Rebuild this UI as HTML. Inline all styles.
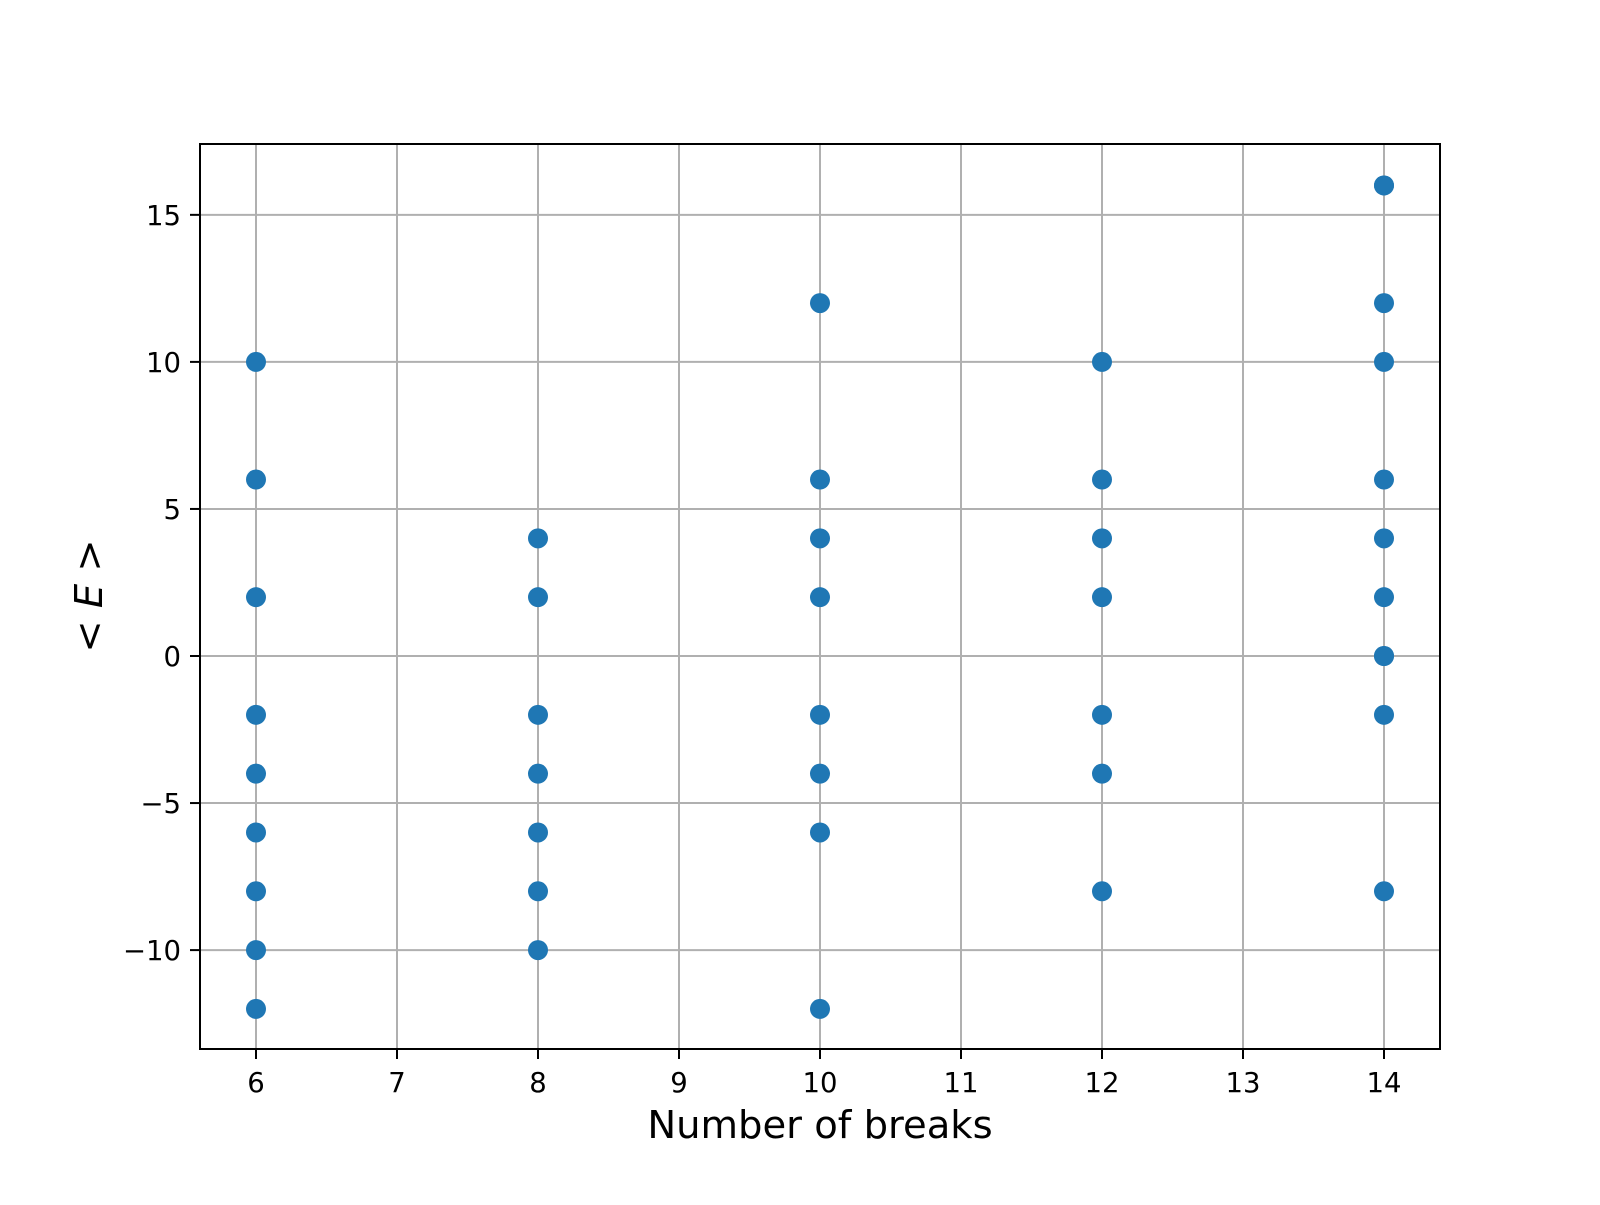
<!DOCTYPE html>
<html><head><meta charset="utf-8"><style>
html,body{margin:0;padding:0;background:#fff;}
svg text{font-family:"DejaVu Sans","Liberation Sans",sans-serif;fill:#000;}
</style></head><body>
<svg id="chart" width="1600" height="1200" xmlns="http://www.w3.org/2000/svg">
<rect width="1600" height="1200" fill="#fff"/>
<g id="grid"></g>
<g id="ticks"></g>
<g id="points"></g>
<rect x="200" y="144" width="1240" height="905" fill="none" stroke="#000" stroke-width="2"/>
<text x="820" y="1138" font-size="38.5" text-anchor="middle">Number of breaks</text>
<text transform="translate(102,596) rotate(-90)" font-size="38.5" text-anchor="middle">&lt; <tspan font-style="italic">E</tspan> &gt;</text>
</svg>
<script>
const xs6 = [10,6,2,-2,-4,-6,-8,-10,-12];
const xs8 = [4,2,-2,-4,-6,-8,-10];
const xs10 = [12,6,4,2,-2,-4,-6,-12];
const xs12 = [10,6,4,2,-2,-4,-8];
const xs14 = [16,16,12,10,6,4,2,0,0,-2,-8];
const breaks = [6,8,10,12,14];
const xTicks = [6,7,8,9,10,11,12,13,14];
const yTicks = [-10,-5,0,5,10,15];
const yTickLabels = ["\u221210","\u22125","0","5","10","15"];

const NS="http://www.w3.org/2000/svg";
function X(v){return 256+(v-6)*141;}
function Y(v){return 656-v*29.41;}
function mk(tag,attrs,parent){const e=document.createElementNS(NS,tag);for(const k in attrs)e.setAttribute(k,attrs[k]);parent.appendChild(e);return e;}
const grid=document.getElementById('grid'),ticks=document.getElementById('ticks'),pts=document.getElementById('points');
xTicks.forEach(t=>{
  const l=mk('line',{x1:X(t),x2:X(t),y1:144,y2:1049,stroke:'#b0b0b0','stroke-width':2},grid);
  
  
  const tk=mk('line',{x1:X(t),x2:X(t),y1:1049,y2:1059,stroke:'#000','stroke-width':2},ticks);
  
  
  const tx=mk('text',{x:X(t),y:1092,'font-size':27.5,'text-anchor':'middle'},ticks);
  tx.textContent=t;
  
  
});
yTicks.forEach((t,i)=>{
  const l=mk('line',{x1:200,x2:1440,y1:Y(t),y2:Y(t),stroke:'#b0b0b0','stroke-width':2},grid);
  
  
  const tk=mk('line',{x1:190,x2:200,y1:Y(t),y2:Y(t),stroke:'#000','stroke-width':2},ticks);
  
  
  const tx=mk('text',{x:181,y:Y(t)+10,'font-size':27.5,'text-anchor':'end'},ticks);
  tx.textContent=yTickLabels[i];
  
  
});
[xs6,xs8,xs10,xs12,xs14].forEach((arr,i)=>{
  arr.forEach(v=>{
    const c=mk('circle',{cx:X(breaks[i]),cy:Y(v),r:10,fill:'#1f77b4'},pts);
    
    
  });
});
</script>
</body></html>
